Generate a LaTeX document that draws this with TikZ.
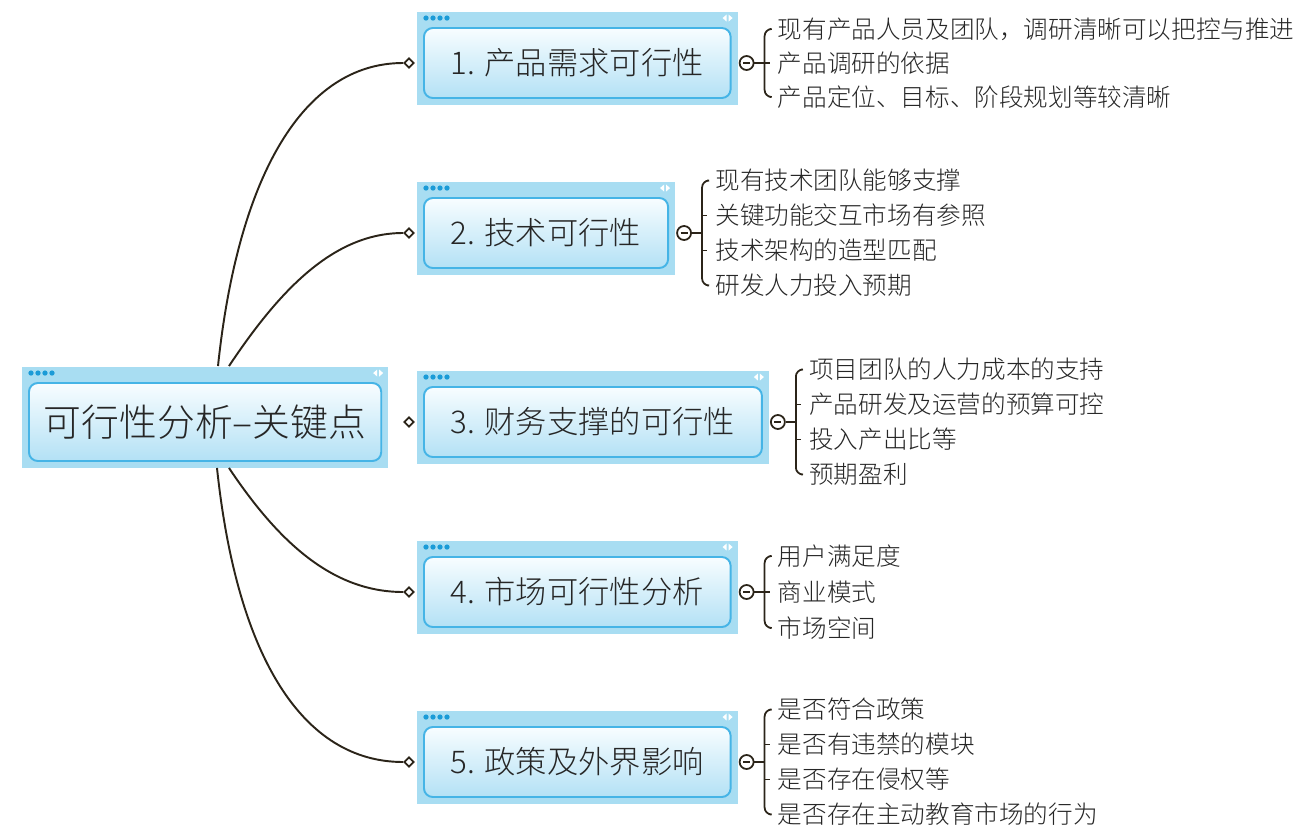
\documentclass[tikz,border=0pt]{standalone}
\usepackage{fontspec}
\newfontfamily\cjk{Noto Sans CJK SC Light}
\usepackage{xcolor}
\usepackage{tikz}
\usetikzlibrary{calc, shapes.geometric, backgrounds}

\definecolor{framebg}{HTML}{A8DDF2}
\definecolor{framedot}{HTML}{1B9BD7}
\definecolor{boxline}{HTML}{45B4E6}
\definecolor{boxtop}{HTML}{F8FDFF}
\definecolor{boxbot}{HTML}{B3E1F5}
\definecolor{linkcol}{HTML}{2B2419}
\definecolor{txt}{HTML}{262626}

\tikzset{
  topic/.style={draw=boxline, line width=1.1pt, rounded corners=5pt,
    top color=boxtop, bottom color=boxbot, anchor=west, text=txt,
    font=\cjk\fontsize{17.8}{20}\selectfont, inner xsep=0.54cm,
    minimum height=1.4cm},
  rootfont/.style={font=\cjk\fontsize{21.5}{24}\selectfont},
  item/.style={anchor=west, text=txt, inner xsep=0.16cm, inner ysep=1pt,
    font=\cjk\fontsize{14}{16}\selectfont},
  dmd/.style={diamond, draw=linkcol, fill=white, line width=1pt,
    minimum size=0.2cm, inner sep=0pt},
  minus/.style={circle, draw=linkcol, fill=white, line width=1pt,
    minimum size=0.28cm, inner sep=0pt,
    path picture={\draw[line width=1pt, linkcol]
      ([xshift=2pt]path picture bounding box.west) --
      ([xshift=-2pt]path picture bounding box.east);}},
  link/.style={draw=linkcol, line width=1.1pt},
  brace/.style={draw=linkcol, line width=1pt, rounded corners=4pt}
}

\begin{document}
\begin{tikzpicture}[x=0.02cm, y=-0.02cm]
  \useasboundingbox (0,0) rectangle (1302,825);

  % Central topic
  \node[topic, rootfont, minimum height=1.56cm, inner xsep=0.3cm] (root)
    at (28,422) {可行性分析–关键点};

  % Main branches
  \node[topic] (b1) at (423,63) {1. 产品需求可行性};
  \node[topic] (b2) at (423,233) {2. 技术可行性};
  \node[topic] (b3) at (423,422) {3. 财务支撑的可行性};
  \node[topic] (b4) at (423,592) {4. 市场可行性分析};
  \node[topic] (b5) at (423,762) {5. 政策及外界影响};

  % Frames round the topics
  \begin{scope}[on background layer]
    \foreach \n in {root,b1,b2,b3,b4,b5} {
      \fill[framebg] ($(\n.north west)+(-6,-15)$) rectangle ($(\n.south east)+(6,6)$);
      \foreach \k in {0,...,3}
        \fill[framedot] ($(\n.north west)+(3+7*\k,-9)$) circle[radius=1.5pt];
      \fill[white] ($(\n.north east)+(-9,-9)$) -- ++(4,-3.5) -- ++(0,7) -- cycle;
      \fill[white] ($(\n.north east)+(1,-9)$) -- ++(-4,-3.5) -- ++(0,7) -- cycle;
    }
  \end{scope}

  % Diamonds in front of the branches
  \node[dmd] (d1) at (409,63) {};
  \node[dmd] (d2) at (409,233) {};
  \node[dmd] (d3) at (409,422) {};
  \node[dmd] (d4) at (409,592) {};
  \node[dmd] (d5) at (409,762) {};

  % Links from the central topic
  \coordinate (r1) at ($(root.north west)+(190,-16)$);
  \coordinate (r2) at ($(root.north west)+(201,-16)$);
  \coordinate (r4) at ($(root.south west)+(201,6)$);
  \coordinate (r5) at ($(root.south west)+(189,6)$);
  \draw[link] (r1) .. controls +(20,-190) and +(-100,0) .. (d1.west);
  \draw[link] (r2) .. controls +(50,-75) and +(-70,0) .. (d2.west);
  \draw[link] (r4) .. controls +(50,75) and +(-70,0) .. (d4.west);
  \draw[link] (r5) .. controls +(20,190) and +(-100,0) .. (d5.west);

  % Collapse markers and spines
  \foreach \b in {1,...,5} {
    \node[minus] (m\b) at ($(b\b.east)+(15,0)$) {};
    \coordinate (s\b) at ($(m\b)+(18,0)$);
    \draw[brace] (m\b) -- (s\b);
  }

  % Sub-topics
  \foreach \t [count=\k] in {现有产品人员及团队，调研清晰可以把控与推进, 产品调研的依据, 产品定位、目标、阶段规划等较清晰}
    \node[item] (i1\k) at ($(s1)+(5,{(\k-2)*34})$) {\t};
  \foreach \t [count=\k] in {现有技术团队能够支撑, 关键功能交互市场有参照, 技术架构的造型匹配, 研发人力投入预期}
    \node[item] (i2\k) at ($(s2)+(5,{(\k-2.5)*35})$) {\t};
  \foreach \t [count=\k] in {项目团队的人力成本的支持, 产品研发及运营的预算可控, 投入产出比等, 预期盈利}
    \node[item] (i3\k) at ($(s3)+(5,{(\k-2.5)*35})$) {\t};
  \foreach \t [count=\k] in {用户满足度, 商业模式, 市场空间}
    \node[item] (i4\k) at ($(s4)+(5,{(\k-2)*36})$) {\t};
  \foreach \t [count=\k] in {是否符合政策, 是否有违禁的模块, 是否存在侵权等, 是否存在主动教育市场的行为}
    \node[item] (i5\k) at ($(s5)+(5,{(\k-2.5)*35})$) {\t};

  % Braces
  \draw[brace] (i11.west) -| (s1) |- (i13.west);
  \draw[brace] (s1 |- i12.west) -- (i12.west);
  \draw[brace] (i21.west) -| (s2) |- (i24.west);
  \draw[brace] (s2 |- i22.west) -- (i22.west);
  \draw[brace] (s2 |- i23.west) -- (i23.west);
  \draw[brace] (i31.west) -| (s3) |- (i34.west);
  \draw[brace] (s3 |- i32.west) -- (i32.west);
  \draw[brace] (s3 |- i33.west) -- (i33.west);
  \draw[brace] (i41.west) -| (s4) |- (i43.west);
  \draw[brace] (s4 |- i42.west) -- (i42.west);
  \draw[brace] (i51.west) -| (s5) |- (i54.west);
  \draw[brace] (s5 |- i52.west) -- (i52.west);
  \draw[brace] (s5 |- i53.west) -- (i53.west);
\end{tikzpicture}
\end{document}
